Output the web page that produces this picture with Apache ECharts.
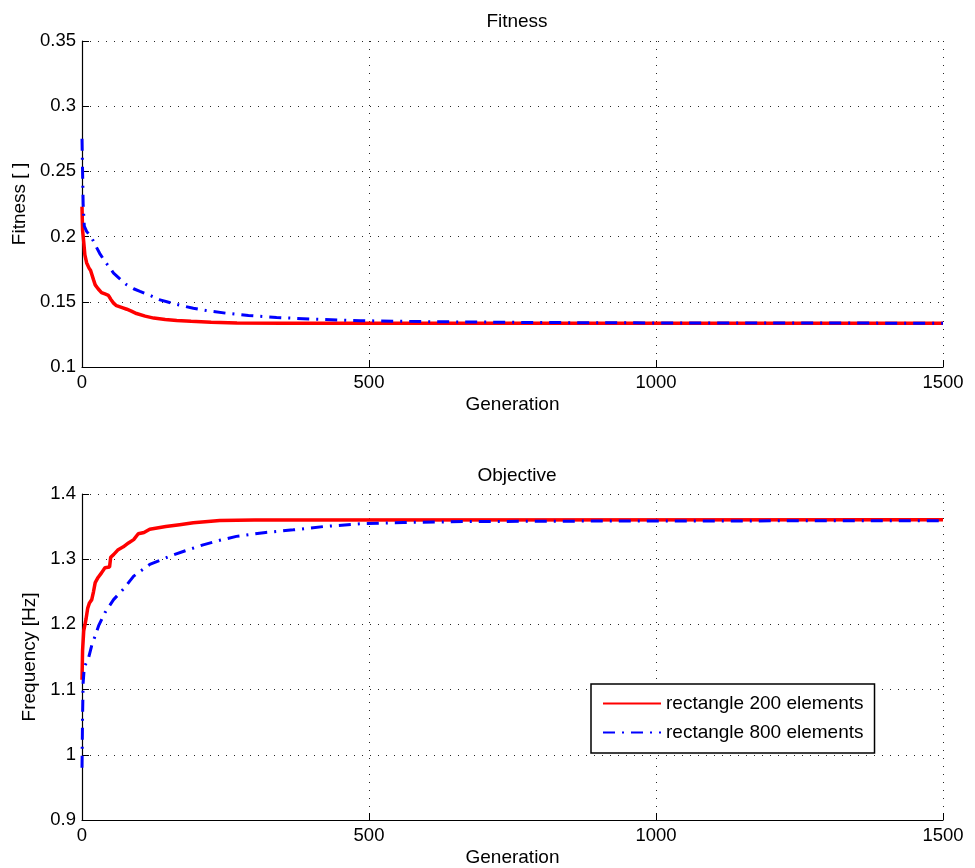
<!DOCTYPE html>
<html>
<head>
<meta charset="utf-8">
<script src="https://cdn.jsdelivr.net/npm/echarts@6/dist/echarts.min.js"></script>
<style>
html,body{margin:0;padding:0;background:#fff;}
#chart{width:975px;height:868px;}
</style>
</head>
<body>
<div id="chart"></div>
<script>
// ---- data ----
var xTicks = [0, 500, 1000, 1500];
var fitnessTicks = [0.1, 0.15, 0.2, 0.25, 0.3, 0.35];
var freqTicks = [0.9, 1.0, 1.1, 1.2, 1.3, 1.4];
var seriesNames = ['rectangle 200 elements', 'rectangle 800 elements'];

var fitGen200 = [0, 1, 3, 5, 8, 12, 15, 20, 23, 28, 34, 40, 46, 50, 55, 60, 70, 78, 85, 95, 110, 125, 145, 165, 190, 225, 270, 350, 500, 1500];
var fitVal200 = [0.223, 0.205, 0.196, 0.186, 0.180, 0.176, 0.174, 0.167, 0.163, 0.160, 0.157, 0.156, 0.155, 0.152, 0.149, 0.147, 0.1455, 0.1443, 0.143, 0.141, 0.139, 0.1375, 0.1365, 0.1357, 0.135, 0.1343, 0.1338, 0.1336, 0.1335, 0.1335];

var fitGen800 = [0, 1, 2, 4, 8, 17, 25, 31, 40, 55, 65, 78, 90, 101, 118, 136, 160, 194, 220, 252, 290, 339, 400, 485, 618, 800, 1000, 1500];
var fitVal800 = [0.275, 0.25, 0.225, 0.208, 0.204, 0.199, 0.192, 0.187, 0.181, 0.172, 0.168, 0.163, 0.160, 0.158, 0.155, 0.1515, 0.1485, 0.145, 0.143, 0.1412, 0.1395, 0.138, 0.1367, 0.1355, 0.1347, 0.1341, 0.1338, 0.1336];

var objGen200 = [0, 1, 3, 7, 10, 13, 17, 20, 23, 28, 34, 40, 48, 50, 55, 63, 72, 81, 90, 98, 108, 118, 146, 170, 194, 240, 300, 1500];
var objVal200 = [1.115, 1.16, 1.19, 1.208, 1.225, 1.233, 1.238, 1.25, 1.264, 1.272, 1.279, 1.287, 1.288, 1.303, 1.307, 1.3146, 1.319, 1.325, 1.33, 1.339, 1.341, 1.346, 1.350, 1.353, 1.356, 1.3595, 1.3602, 1.3605];

var objGen800 = [0, 1, 2, 4, 11, 17, 23, 29, 40, 55, 72, 90, 118, 153, 180, 211, 240, 269, 320, 368, 420, 484, 560, 676, 900, 1200, 1500];
var objVal800 = [0.98, 1.06, 1.11, 1.135, 1.147, 1.168, 1.1825, 1.198, 1.218, 1.238, 1.254, 1.274, 1.292, 1.3045, 1.313, 1.322, 1.329, 1.335, 1.341, 1.345, 1.350, 1.3543, 1.3563, 1.3578, 1.3585, 1.3588, 1.3588];

function pairs(xs, ys) { return xs.map(function (x, i) { return [x, ys[i]]; }); }

var FONT = 'Liberation Sans, Arial, Helvetica, sans-serif';
var TICK_FS = 18.5;
var NAME_FS = 19;
var gridDots = { color: '#000', width: 1, type: [1, 7], opacity: 0.85 };

function xAxisCfg(gi) {
  return {
    type: 'value', gridIndex: gi, min: xTicks[0], max: xTicks[xTicks.length - 1],
    interval: xTicks[1] - xTicks[0],
    name: 'Generation', nameLocation: 'middle', nameGap: 28,
    nameTextStyle: { fontFamily: FONT, fontSize: NAME_FS, color: '#000' },
    axisLine: { show: true, onZero: false, lineStyle: { color: '#000', width: 1.2 } },
    axisTick: { show: true, inside: true, length: 7, lineStyle: { color: '#000', width: 1 } },
    axisLabel: { fontFamily: FONT, fontSize: TICK_FS, color: '#000', margin: 6,
      formatter: function (v) { return String(v); } },
    splitLine: { show: true, showMinLine: true, showMaxLine: true, lineStyle: gridDots }
  };
}
function yAxisCfg(gi, ticks, name, gap) {
  return {
    type: 'value', gridIndex: gi, min: ticks[0], max: ticks[ticks.length - 1],
    interval: Math.round((ticks[1] - ticks[0]) * 100) / 100,
    name: name, nameLocation: 'middle', nameGap: gap, nameRotate: 90,
    nameTextStyle: { fontFamily: FONT, fontSize: NAME_FS, color: '#000' },
    axisLine: { show: true, onZero: false, lineStyle: { color: '#000', width: 1.2 } },
    axisTick: { show: true, inside: true, length: 7, lineStyle: { color: '#000', width: 1 } },
    axisLabel: { fontFamily: FONT, fontSize: TICK_FS, color: '#000', margin: 6,
      formatter: function (v) { return String(Math.round(v * 100) / 100); } },
    splitLine: { show: true, showMinLine: true, showMaxLine: true, lineStyle: gridDots }
  };
}

var redStyle = { color: '#ff0000', width: 3.5, type: 'solid' };
var blueStyle = { color: '#0000ff', width: 3, type: [12, 7, 2, 7] };

var chart = echarts.init(document.getElementById('chart'), null, { renderer: 'canvas' });
chart.setOption({
  backgroundColor: '#fff',
  animation: false,
  title: [
    { text: 'Fitness', left: 512, top: 7, textAlign: 'center',
      textStyle: { fontFamily: FONT, fontSize: NAME_FS, fontWeight: 'normal', color: '#000' } },
    { text: 'Objective', left: 512, top: 461, textAlign: 'center',
      textStyle: { fontFamily: FONT, fontSize: NAME_FS, fontWeight: 'normal', color: '#000' } }
  ],
  grid: [
    { left: 82, right: 32, top: 41, height: 326 },
    { left: 82, right: 32, top: 494, height: 328 }
  ],
  xAxis: [xAxisCfg(0), xAxisCfg(1)],
  yAxis: [
    yAxisCfg(0, fitnessTicks, 'Fitness [ ]', 50),
    yAxisCfg(1, freqTicks, 'Frequency [Hz]', 38)
  ],
  legend: {
    data: seriesNames,
    orient: 'vertical', left: 591, top: 684,
    padding: [10, 11, 11, 11],
    itemWidth: 58, itemHeight: 14, itemGap: 10,
    itemStyle: { opacity: 0 },
    backgroundColor: '#fff', borderColor: '#000', borderWidth: 1.5,
    textStyle: { fontFamily: FONT, fontSize: NAME_FS, color: '#000' }
  },
  series: [
    { name: seriesNames[0], type: 'line', xAxisIndex: 0, yAxisIndex: 0, symbol: 'none',
      lineStyle: redStyle, itemStyle: { color: '#ff0000' }, data: pairs(fitGen200, fitVal200), z: 2 },
    { name: seriesNames[1], type: 'line', xAxisIndex: 0, yAxisIndex: 0, symbol: 'none',
      lineStyle: blueStyle, itemStyle: { color: '#0000ff' }, data: pairs(fitGen800, fitVal800), z: 3 },
    { name: seriesNames[0], type: 'line', xAxisIndex: 1, yAxisIndex: 1, symbol: 'none',
      lineStyle: redStyle, itemStyle: { color: '#ff0000' }, data: pairs(objGen200, objVal200), z: 2 },
    { name: seriesNames[1], type: 'line', xAxisIndex: 1, yAxisIndex: 1, symbol: 'none',
      lineStyle: blueStyle, itemStyle: { color: '#0000ff' }, data: pairs(objGen800, objVal800), z: 3 }
  ]
});
</script>
</body>
</html>
